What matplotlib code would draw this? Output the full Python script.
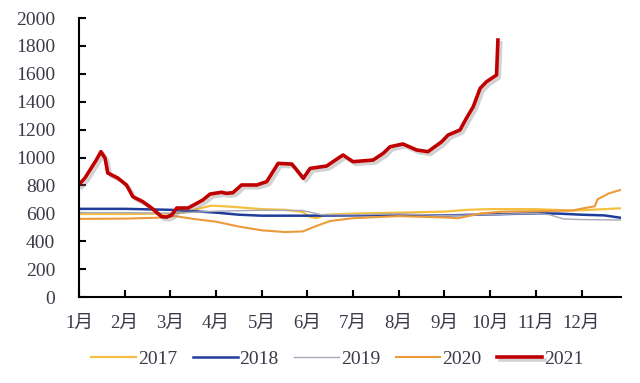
import matplotlib
matplotlib.use("Agg")
import matplotlib.pyplot as plt
import matplotlib.patheffects as pe

plt.rcParams['font.family'] = ['Liberation Serif', 'Noto Sans CJK SC']

#### DATA ######
months = ['1月', '2月', '3月', '4月', '5月', '6月', '7月', '8月', '9月', '10月', '11月', '12月']

# x values are month positions (0 = 1月)
x2017 = [0, 1.0, 2.0, 2.3, 2.7, 2.9, 3.3, 4.0, 4.5, 4.9, 5.05, 5.2, 5.4, 6.0, 7.0, 8.0, 8.5, 9.0, 10.0, 10.8, 11.2, 11.86]
v2017 = [595, 595, 598, 605, 640, 655, 648, 630, 625, 610, 575, 565, 590, 598, 605, 612, 625, 630, 630, 620, 625, 636]

x2018 = [0, 1, 2, 2.5, 3, 3.5, 4, 5, 6, 7, 8, 9, 10, 10.5, 11, 11.5, 11.86]
v2018 = [632, 632, 625, 615, 605, 590, 583, 583, 585, 588, 585, 592, 600, 598, 590, 585, 568]

x2019 = [0, 1, 2, 3, 4, 4.9, 5.3, 6, 7, 8, 9, 10, 10.3, 10.6, 11, 11.86]
v2019 = [605, 605, 600, 615, 622, 620, 590, 590, 595, 585, 590, 600, 590, 560, 555, 552]

x2020 = [0, 1, 1.7, 2.1, 2.5, 3, 3.5, 4, 4.5, 4.9, 5.2, 5.5, 6, 7, 8, 8.3, 8.8, 9.3, 10.0, 10.8, 11.1, 11.29, 11.35, 11.6, 11.86]
v2020 = [560, 562, 568, 580, 560, 540, 505, 478, 466, 470, 510, 545, 565, 580, 570, 565, 600, 612, 615, 620, 640, 650, 700, 743, 768]

x2021 = [0.00, 0.13, 0.31, 0.38, 0.48, 0.57, 0.63, 0.85, 1.04, 1.18, 1.40, 1.59, 1.81, 1.92, 2.03,
         2.14, 2.39, 2.71, 2.87, 3.12, 3.23, 3.37, 3.56, 3.89, 4.11, 4.36, 4.66, 4.91, 5.06, 5.42,
         5.78, 6.00, 6.44, 6.66, 6.81, 7.09, 7.39, 7.64, 7.94, 8.08, 8.34, 8.48, 8.63, 8.78, 8.92,
         9.14, 9.17]
v2021 = [805, 853, 946, 982, 1042, 996, 889, 853, 803, 719, 683, 638, 576, 573, 588,
         638, 638, 695, 738, 751, 743, 748, 803, 803, 827, 958, 953, 851, 922, 939,
         1018, 970, 982, 1030, 1077, 1097, 1054, 1042, 1113, 1161, 1197, 1281, 1364, 1495, 1543,
         1591, 1842]
################

txt = '#3a3a48'

fig = plt.figure(figsize=(6.4, 3.83), dpi=100)
ax = fig.add_axes([0.1234, 0.2245, 0.970 - 0.1234, 0.953 - 0.2245])

ax.plot(x2017, v2017, color='#F5C040', lw=1.6, label='2017')
ax.plot(x2018, v2018, color='#1F3C9A', lw=1.8, label='2018')
ax.plot(x2019, v2019, color='#A8A8B8', lw=1.0, label='2019')
ax.plot(x2020, v2020, color='#EB9B3A', lw=1.5, label='2020')
ax.plot(x2021, v2021, color='#C00000', lw=2.6, label='2021',
        path_effects=[pe.SimpleLineShadow(offset=(2, -2), shadow_color='gray', alpha=0.35),
                      pe.Normal()])

ax.set_xlim(0, 11.86)
ax.set_ylim(0, 2000)
ax.set_yticks(range(0, 2001, 200))
ax.set_xticks(range(12))
ax.set_xticklabels(months)

for s in ['top', 'right']:
    ax.spines[s].set_visible(False)
for s in ['left', 'bottom']:
    ax.spines[s].set_linewidth(1.5)
    ax.spines[s].set_color('black')

ax.tick_params(axis='y', direction='in', length=5, width=1.5, pad=17, labelsize=14, labelcolor=txt)
ax.tick_params(axis='x', direction='in', length=5, width=1.5, pad=13, labelsize=13.5, labelcolor=txt)

fig.legend(loc='center', bbox_to_anchor=(0.527, 0.063), ncol=5, frameon=False,
           fontsize=14, handlelength=2.3, handletextpad=0.1, columnspacing=0.8,
           labelcolor=txt)

fig.savefig('out.png', dpi=100, facecolor='white')
